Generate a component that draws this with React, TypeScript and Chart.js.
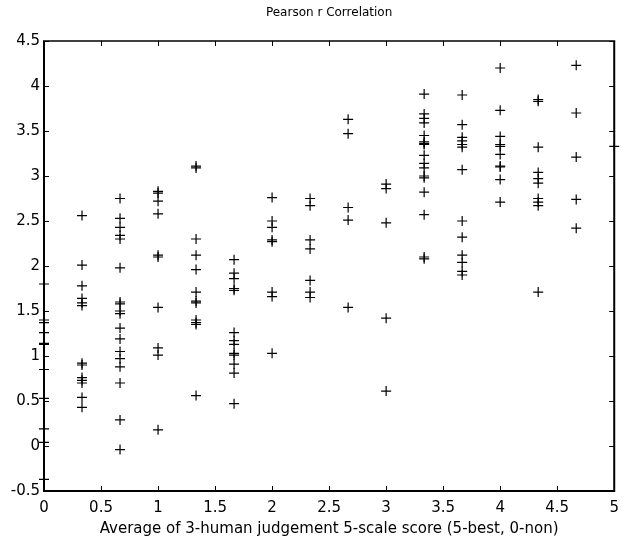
import React, { useEffect, useRef } from "react";
import { Chart, registerables } from "chart.js";

Chart.register(...registerables);

// x positions: averages of three integer scores (multiples of one third)
const xLevels = [0, 0.3333, 0.6667, 1, 1.3333, 1.6667, 2, 2.3333, 2.6667, 3, 3.3333, 3.6667, 4, 4.3333, 4.6667, 5];

// Pearson r values observed at each x level
const col0 = [1.8, 1.4, 1.37, 1.26, 1.14, 1.13, 0.85, 0.53, 0.19, 0.04, -0.37];
const col1 = [2.56, 2.01, 1.78, 1.64, 1.59, 1.56, 0.92, 0.9, 0.76, 0.73, 0.7, 0.54, 0.43];
const col2 = [2.75, 2.53, 2.43, 2.34, 2.3, 1.98, 1.6, 1.58, 1.5, 1.47, 1.31, 1.19, 1.05, 0.97, 0.88, 0.7, 0.29, -0.04];
const col3 = [2.83, 2.81, 2.72, 2.58, 2.12, 2.1, 1.54, 1.09, 1.01, 0.18];
const col4 = [3.11, 3.09, 2.3, 2.12, 1.96, 1.71, 1.61, 1.59, 1.4, 1.37, 1.35, 0.56];
const col5 = [2.07, 1.92, 1.86, 1.75, 1.73, 1.26, 1.17, 1.13, 1.03, 1.01, 0.91, 0.81, 0.47];
const col6 = [2.76, 2.5, 2.43, 2.29, 2.27, 1.71, 1.66, 1.03];
const col7 = [2.75, 2.67, 2.29, 2.19, 1.84, 1.71, 1.65];
const col8 = [3.63, 3.47, 2.65, 2.51, 1.54];
const col9 = [2.91, 2.86, 2.48, 1.42, 0.61];
const col10 = [3.91, 3.69, 3.64, 3.59, 3.45, 3.38, 3.36, 3.35, 3.23, 3.14, 3.09, 3.0, 2.98, 2.82, 2.57, 2.1, 2.08];
const col11 = [3.9, 3.57, 3.43, 3.39, 3.35, 3.32, 3.07, 2.5, 2.32, 2.12, 2.04, 1.94, 1.9];
const col12 = [4.2, 3.73, 3.44, 3.35, 3.33, 3.24, 3.11, 3.1, 2.96, 2.71];
const col13 = [3.85, 3.83, 3.32, 3.04, 2.97, 2.92, 2.75, 2.71, 2.67, 1.71];
const col14 = [4.23, 3.7, 3.21, 2.74, 2.42];
const col15 = [3.33];

const columns = [col0, col1, col2, col3, col4, col5, col6, col7, col8, col9, col10, col11, col12, col13, col14, col15];

const xTicks = [0, 0.5, 1, 1.5, 2, 2.5, 3, 3.5, 4, 4.5, 5];
const yTicks = [-0.5, 0, 0.5, 1, 1.5, 2, 2.5, 3, 3.5, 4, 4.5];

const titleText = "Pearson r Correlation";
const xTitleText = "Average of 3-human judgement 5-scale score (5-best, 0-non)";

const FONT = "'DejaVu Sans', 'Liberation Sans', sans-serif";

export default function App() {
  const ref = useRef<HTMLCanvasElement>(null);

  useEffect(() => {
    document.body.style.margin = "0";
    if (!ref.current) return;

    const points = columns.flatMap((col, i) => col.map((y) => ({ x: xLevels[i], y })));

    const boxPlugin = {
      id: "matlabBox",
      beforeDatasetsDraw(chart: any) {
        const { ctx, chartArea } = chart;
        const { left, right, top, bottom } = chartArea;
        const xs = chart.scales.x;
        const ys = chart.scales.y;
        ctx.save();
        ctx.strokeStyle = "#000";
        ctx.lineWidth = 2;
        ctx.beginPath();
        ctx.moveTo(left, top);
        ctx.lineTo(left, bottom);
        ctx.lineTo(right, bottom);
        ctx.lineTo(right, top);
        ctx.stroke();
        ctx.lineWidth = 1.5;
        ctx.beginPath();
        ctx.moveTo(left - 1, top);
        ctx.lineTo(right + 1, top);
        ctx.stroke();
        ctx.lineWidth = 1;
        ctx.beginPath();
        const tl = 5;
        xTicks.forEach((v) => {
          const px = Math.round(xs.getPixelForValue(v)) + 0.5;
          ctx.moveTo(px, bottom);
          ctx.lineTo(px, bottom - tl);
          ctx.moveTo(px, top);
          ctx.lineTo(px, top + tl);
        });
        yTicks.forEach((v) => {
          const py = Math.round(ys.getPixelForValue(v)) + 0.5;
          ctx.moveTo(left, py);
          ctx.lineTo(left + tl, py);
          ctx.moveTo(right, py);
          ctx.lineTo(right - tl, py);
        });
        ctx.stroke();
        ctx.restore();
      },
      afterDraw(chart: any) {
        const { ctx, chartArea } = chart;
        ctx.save();
        ctx.fillStyle = "#000";
        ctx.font = `12px ${FONT}`;
        ctx.textAlign = "center";
        ctx.textBaseline = "middle";
        ctx.fillText(titleText, (chartArea.left + chartArea.right) / 2, 13);
        ctx.restore();
      },
    };

    const chart = new Chart(ref.current, {
      type: "scatter",
      data: {
        datasets: [
          {
            label: "Pearson r",
            data: points,
            pointStyle: "cross",
            pointRadius: 5,
            pointHoverRadius: 5,
            borderColor: "#000",
            backgroundColor: "#000",
            pointBorderWidth: 1.2,
            clip: false,
          } as any,
        ],
      },
      options: {
        animation: false,
        responsive: false,
        maintainAspectRatio: false,
        events: [],
        layout: { padding: { top: 41, right: 6, left: 0, bottom: 0 } },
        plugins: {
          legend: { display: false },
          tooltip: { enabled: false },
          title: { display: false },
        },
        scales: {
          x: {
            type: "linear",
            min: 0,
            max: 5,
            afterBuildTicks: (s: any) => {
              s.ticks = xTicks.map((v) => ({ value: v }));
            },
            afterFit: (s: any) => {
              s.height = 49;
            },
            grid: { display: false, drawTicks: false },
            border: { display: false },
            ticks: {
              color: "#000",
              padding: 8,
              maxRotation: 0,
              autoSkip: false,
              font: { family: FONT, size: 15 },
              callback: (v: any) => String(v),
            },
            title: {
              display: true,
              text: xTitleText,
              color: "#000",
              font: { family: FONT, size: 15 },
              padding: { top: 0, bottom: 2 },
            },
          },
          y: {
            type: "linear",
            min: -0.5,
            max: 4.5,
            afterBuildTicks: (s: any) => {
              s.ticks = yTicks.map((v) => ({ value: v }));
            },
            afterFit: (s: any) => {
              s.width = 44;
            },
            grid: { display: false, drawTicks: false },
            border: { display: false },
            ticks: {
              color: "#000",
              padding: 4,
              autoSkip: false,
              font: { family: FONT, size: 15 },
              callback: (v: any) => String(v),
            },
          },
        },
      },
      plugins: [boxPlugin],
    });

    return () => chart.destroy();
  }, []);

  return (
    <div style={{ position: "absolute", left: 0, top: 0, width: 627, height: 540, background: "#fff" }}>
      <canvas ref={ref} width={627} height={540} style={{ display: "block", width: 627, height: 540 }} />
    </div>
  );
}
